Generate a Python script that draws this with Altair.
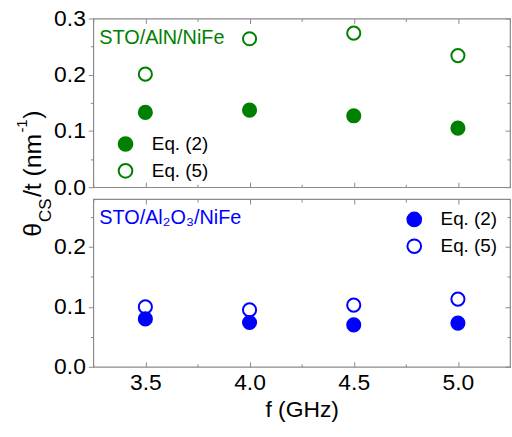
import altair as alt
import pandas as pd

freq = [3.5, 4.0, 4.5, 5.0]
aln_eq2 = [0.133, 0.137, 0.127, 0.105]
aln_eq5 = [0.201, 0.264, 0.274, 0.234]
al2o3_eq2 = [0.080, 0.074, 0.070, 0.073]
al2o3_eq5 = [0.100, 0.095, 0.103, 0.113]
methods = ["Eq. (2)", "Eq. (5)"]
x_ticks = [3.25, 3.5, 3.75, 4.0, 4.25, 4.5, 4.75, 5.0, 5.25]
x_labels = [3.5, 4.0, 4.5, 5.0]
top_y_ticks = [0.0, 0.05, 0.1, 0.15, 0.2, 0.25, 0.3]
bot_y_ticks = [0.0, 0.05, 0.1, 0.15, 0.2, 0.25]
title_parts = ["θ", "CS", "/t (nm", "-1", ")"]

FONT = "Liberation Sans"
GREEN = "#008000"
BLUE = "#0000ff"
FRAME = "#8a8a8a"
W = 420

X_MAJOR_TEST = "abs(datum.value*2 - round(datum.value*2)) < 0.001"
Y_MAJOR_TEST = "abs(datum.value*10 - round(datum.value*10)) < 0.001"


def make_df(eq2, eq5):
    rows = []
    for f, v in zip(freq, eq5):
        rows.append({"f": f, "v": v, "m": methods[1]})
    for f, v in zip(freq, eq2):
        rows.append({"f": f, "v": v, "m": methods[0]})
    return pd.DataFrame(rows)


def panel(df, color, label, ymax, yticks, H, bottom, legend_xy, label_y, extra=None):
    xs = alt.Scale(domain=[3.25, 5.25], nice=False, zero=False)
    ys = alt.Scale(domain=[0, ymax], nice=False, zero=False)
    base = alt.Chart(df)
    x_tick_size = {"condition": {"test": X_MAJOR_TEST, "value": 5}, "value": 3}
    y_tick_size = {"condition": {"test": Y_MAJOR_TEST, "value": 5}, "value": 3}

    pts = base.mark_point(shape="circle", filled=True, stroke=color,
                          strokeWidth=2, size=175, opacity=1).encode(
        x=alt.X("f:Q", scale=xs, axis=alt.Axis(
            orient="bottom", values=x_labels, ticks=False, domain=False,
            labels=bottom, title="f (GHz)" if bottom else None, grid=False,
            format=".1f", labelFontSize=23, labelFont=FONT, labelColor="black",
            labelPadding=5, titleFontSize=23, titleFont=FONT,
            titleFontWeight="normal", titleColor="black", titlePadding=4)),
        y=alt.Y("v:Q", scale=ys, axis=alt.Axis(
            orient="left", values=yticks, tickSize=y_tick_size,
            tickColor=FRAME, domain=False, grid=False, title=None,
            labelExpr=f"({Y_MAJOR_TEST}) ? format(datum.value, '.1f') : ''",
            labelFontSize=23, labelFont=FONT, labelColor="black",
            labelPadding=3)),
        fill=alt.Fill("m:N", scale=alt.Scale(domain=methods, range=[color, "white"]),
                      legend=alt.Legend(
                          title=None, orient="none", legendX=legend_xy[0],
                          legendY=legend_xy[1], padding=0, labelFontSize=19,
                          labelFont=FONT, labelColor="black", symbolType="circle",
                          symbolSize=190, symbolStrokeWidth=2,
                          symbolStrokeColor=color, rowPadding=4, labelOffset=17)),
    )

    inv_b = base.mark_point(opacity=0).encode(
        x=alt.X("f:Q", scale=xs, axis=alt.Axis(
            orient="bottom", offset=-H, values=x_ticks, tickSize=x_tick_size,
            tickColor=FRAME, labels=False, domain=False, grid=False, title=None)),
        y=alt.Y("v:Q", scale=ys, axis=alt.Axis(
            orient="left", offset=-W, values=yticks, tickSize=y_tick_size,
            tickColor=FRAME, labels=False, domain=False, grid=False, title=None)),
    )
    inv_c = base.mark_point(opacity=0).encode(
        x=alt.X("f:Q", scale=xs, axis=alt.Axis(
            orient="top", offset=-H, values=x_ticks, tickSize=x_tick_size,
            tickColor=FRAME, labels=False, domain=False, grid=False, title=None)),
        y=alt.Y("v:Q", scale=ys, axis=None),
    )
    lab = alt.Chart(pd.DataFrame({"t": [label]})).mark_text(
        align="left", baseline="alphabetic", fontSize=20, font=FONT, color=color
    ).encode(text="t:N", x=alt.value(6), y=alt.value(label_y))

    layers = [inv_b, inv_c, pts, lab]
    if extra:
        layers += extra
    return alt.layer(*layers).resolve_axis(x="independent", y="independent").properties(
        width=W, height=H)


# y-axis title pieces (rotated), placed relative to top panel
pos = [(-53, 220, 25), (-43, 205, 17), (-53, 180, 25), (-67, 115, 15), (-53, 101, 25)]
title_layers = []
for txt, (px, py, fs) in zip(title_parts, pos):
    title_layers.append(
        alt.Chart(pd.DataFrame({"t": [txt]})).mark_text(
            align="left", baseline="alphabetic", angle=270, fontSize=fs,
            font=FONT, color="black").encode(
            text="t:N", x=alt.value(px), y=alt.value(py)))

top = panel(make_df(aln_eq2, aln_eq5), GREEN, "STO/AlN/NiFe", 0.3, top_y_ticks,
            170, False, (23, 117), 26, extra=title_layers)
bot = panel(make_df(al2o3_eq2, al2o3_eq5), BLUE, "STO/Al₂O₃/NiFe", 0.28, bot_y_ticks,
            169, True, (314, 11), 25)

chart = alt.vconcat(top, bot, spacing=12, bounds="flush").resolve_scale(
    fill="independent").properties(
    padding={"left": 14, "top": 5, "right": 0, "bottom": 0},
    background="white",
).configure_view(stroke=FRAME, strokeWidth=1.2)

chart.save("out.html", embed_options={"renderer": "svg", "actions": False})
